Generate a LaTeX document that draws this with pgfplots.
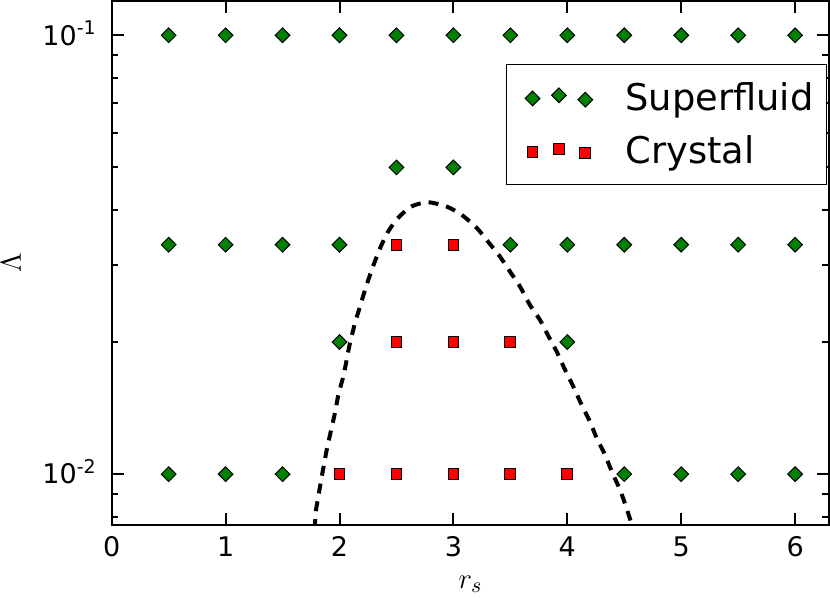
\documentclass[border=0pt]{standalone}
\usepackage{pgfplots}
\pgfplotsset{compat=1.18}
\usepackage{fontspec}
\setmainfont{DejaVu Sans}
\definecolor{sfgreen}{HTML}{008000}
\definecolor{crred}{HTML}{FF0000}

\begin{document}
\begin{tikzpicture}
\begin{semilogyaxis}[
  scale only axis, width=358.8pt, height=262pt,
  xmin=0, xmax=6.3, ymin=0.00766, ymax=0.1197,
  xtick={0,...,6}, ytick={0.01,0.1},
  yticklabels={10\textsuperscript{-2},10\textsuperscript{-1}},
  minor ytick={0.008,0.009,0.02,0.03,0.04,0.05,0.06,0.07,0.08,0.09},
  tick align=inside,
  major tick length=6pt, minor tick length=3.4pt,
  every tick/.style={black,line width=1pt},
  axis line style={line width=1pt},
  /pgf/number format/assume math mode=true,
  tick label style={font=\fontsize{13.5}{16}\selectfont, inner sep=0pt},
  xticklabel style={anchor=north, yshift=-5.5pt},
  yticklabel style={anchor=base east, xshift=-7.3pt, yshift=-4.9pt},
  xlabel={$r_s$}, ylabel={$\Lambda$},
  label style={font=\fontsize{15}{18}\selectfont},
  xlabel style={at={(axis description cs:0.5,0)}, anchor=base, yshift=-31.5pt},
  ylabel style={at={(axis description cs:-0.1403,0.5)}, anchor=center},
  legend style={at={(0.997,0.880)}, anchor=north east, draw=black, line width=0.7pt,
    font=\fontsize{18.4}{22}\selectfont, inner xsep=6.5pt, inner ysep=3.3pt,
    nodes={inner sep=0pt, draw=none}, row sep=0pt},
  legend cell align=left,
  legend image code/.code={
    \path[draw=none,fill=none] (-6.5pt,-13.35pt) rectangle (46.5pt,13.35pt);
    \draw[#1,only marks] plot coordinates {(0pt,-0.3pt) (13.2pt,1.3pt) (26.4pt,-0.9pt)};
  },
]
% boundary curve
\addplot[black, line width=2pt, dash pattern=on 5pt off 4pt, smooth, tension=0.4, forget plot] coordinates {
 (1.775,0.0075) (1.785,0.00774) (1.794,0.00829) (1.829,0.00937) (1.858,0.01033)
 (1.888,0.01136) (1.923,0.01250) (1.960,0.01379) (1.990,0.01516) (2.033,0.01669)
 (2.063,0.01822) (2.085,0.01953) (2.136,0.02211) (2.180,0.02408) (2.224,0.02629)
 (2.283,0.02920) (2.350,0.03243) (2.420,0.03546) (2.510,0.03827) (2.630,0.04071)
 (2.774,0.04166) (2.941,0.04071) (3.073,0.03898) (3.205,0.03640) (3.304,0.03387)
 (3.409,0.03131) (3.497,0.02894) (3.585,0.02675) (3.672,0.02429) (3.760,0.02246)
 (3.819,0.02099) (3.907,0.01902) (3.980,0.01729) (4.053,0.01583) (4.126,0.01438)
 (4.199,0.01317) (4.258,0.01208) (4.331,0.01107) (4.390,0.01014) (4.463,0.00921)
 (4.515,0.00844) (4.557,0.00780) (4.565,0.0075)
};
% superfluid
\addplot[only marks, mark=square*, mark size=2.6pt, line width=0.5pt,
  mark options={rotate=45, fill=sfgreen, draw=black}] coordinates {
 (0.5,0.1) (1,0.1) (1.5,0.1) (2,0.1) (2.5,0.1) (3,0.1) (3.5,0.1) (4,0.1) (4.5,0.1) (5,0.1) (5.5,0.1) (6,0.1)
 (2.5,0.05) (3,0.05)
 (0.5,0.03333) (1,0.03333) (1.5,0.03333) (2,0.03333) (3.5,0.03333) (4,0.03333) (4.5,0.03333) (5,0.03333) (5.5,0.03333) (6,0.03333)
 (2,0.02) (4,0.02)
 (0.5,0.01) (1,0.01) (1.5,0.01) (4.5,0.01) (5,0.01) (5.5,0.01) (6,0.01)
};
\addlegendentry{Superfluid}
% crystal
\addplot[only marks, mark=square*, mark size=2.7pt, line width=0.5pt,
  mark options={fill=crred, draw=black}] coordinates {
 (2.5,0.03333) (3,0.03333)
 (2.5,0.02) (3,0.02) (3.5,0.02)
 (2,0.01) (2.5,0.01) (3,0.01) (3.5,0.01) (4,0.01)
};
\addlegendentry{Crystal}
\end{semilogyaxis}
\pgfresetboundingbox
\path ([shift={(-55.85pt,-36.5pt)}]current axis.south west) rectangle ([shift={(0.35pt,0.5pt)}]current axis.north east);
\end{tikzpicture}
\end{document}
